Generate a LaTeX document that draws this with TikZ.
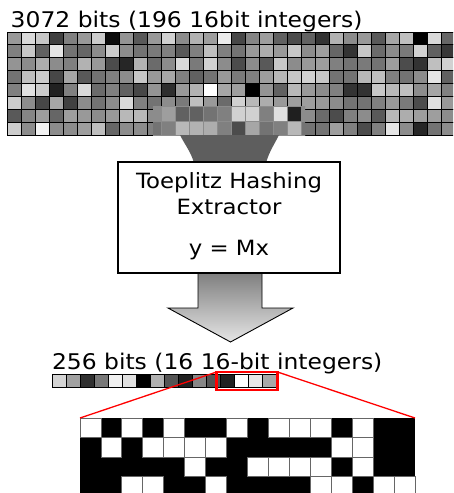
\documentclass[tikz,border=0pt]{standalone}
\usepackage{fontspec}
\setmainfont{DejaVu Sans}
\begin{document}
\begin{tikzpicture}[x=1pt,y=-1pt,
  lbl/.style={font=\fontsize{21.6}{26}\selectfont, inner sep=0pt, xscale=1.085},
  boxtxt/.style={font=\fontsize{21}{25}\selectfont, inner sep=0pt, xscale=1.085},
  gridcell/.style={draw=black, line width=0.9pt},
  patchcell/.style={draw=black!45, line width=0.4pt},
  bitcell/.style={fill=white, draw=black!60, line width=0.8pt},
  barcell/.style={draw=black, line width=0.8pt},
  redline/.style={draw=red, line width=1.3pt}]
\useasboundingbox (0,0) rectangle (453,493);
\begin{scope}
\clip (0,0) rectangle (453,493);
% ---------- top grid of 8 x 32 gray cells ----------
\def\rowA{60,85,78,25,50,60,80,5,58,35,60,82,55,70,62,92,28,52,62,38,30,38,20,70,55,60,35,65,75,0,85,40}
\def\rowB{50,78,38,90,45,40,55,80,55,45,48,50,35,50,75,50,45,60,68,60,78,55,62,40,20,78,42,55,48,82,38,22}
\def\rowC{58,55,68,55,50,70,60,30,15,70,42,55,85,48,82,55,30,55,35,78,55,60,62,50,45,48,45,62,30,20,75,82}
\def\rowD{45,75,80,28,65,35,45,50,55,78,60,65,50,38,45,60,48,50,62,72,78,82,78,45,45,72,75,50,45,55,90,38}
\def\rowE{50,88,80,13,50,85,42,50,38,28,58,18,60,70,100,65,62,0,58,38,72,60,55,50,20,20,78,72,75,55,65,50}
\def\rowF{80,55,28,65,25,55,45,55,85,50,45,55,48,75,60,42,82,72,68,60,62,62,60,55,45,45,50,60,48,30,88,60}
\def\rowG{35,52,62,40,62,60,55,60,72,72,55,50,60,60,50,55,80,80,50,85,15,55,42,30,50,55,35,72,68,62,62,55}
\def\rowH{80,55,95,55,55,62,75,40,55,55,50,50,72,70,68,50,30,65,45,50,72,45,45,62,50,30,50,90,55,15,45,55}
\foreach \vals [count=\r from 0] in {\rowA,\rowB,\rowC,\rowD,\rowE,\rowF,\rowG,\rowH}{
  \edef\celllist{\vals}
  \foreach \g [count=\c from 0] in \celllist{
    \path[gridcell, fill=white!\g!black] (7+14*\c, 32+12.875*\r) rectangle ++(14,12.875);
  }
}
% ---------- overlay patch at the funnel mouth ----------
\begin{scope}
\clip (153,106) rectangle (305,135.5);
\def\patchA{55,62,38,38,45,50,82,82,50,88,12,55}
\def\patchB{45,50,72,70,68,50,30,65,45,50,72,45}
\foreach \vals [count=\r from 0] in {\patchA,\patchB}{
  \edef\celllist{\vals}
  \foreach \g [count=\c from 10] in \celllist{
    \path[patchcell, fill=white!\g!black] (7+14*\c, 106+14.75*\r) rectangle ++(14,14.75);
  }
}
\end{scope}
% ---------- funnel ----------
\fill[white!37!black] (180,135) .. controls (185,145) and (191,152) .. (194,163)
  -- (266,163) .. controls (269,152) and (274,145) .. (279,135) -- cycle;
% ---------- down arrow ----------
\shade[top color=white!50!black, bottom color=white!90!black]
  (198,273) -- (198,308) -- (168,308) -- (230.5,342) -- (293,308) -- (262,308) -- (262,273) -- cycle;
\draw[line width=0.9pt, line join=miter]
  (198,273) -- (198,308) -- (168,308) -- (230.5,342) -- (293,308) -- (262,308) -- (262,273);
% ---------- extractor box ----------
\node[draw=black, fill=white, line width=1.8pt, minimum width=222pt, minimum height=111pt, inner sep=0pt] (box) at (229,217.5) {};
\node[boxtxt, anchor=base] (t1) at (229,188) {Toeplitz Hashing};
\node[boxtxt, anchor=base] (t2) at (229,214) {Extractor};
\node[boxtxt, anchor=base] (t3) at (229,255) {y = Mx};
% ---------- labels ----------
\node[lbl, anchor=base west] (toplabel) at (10.5,27) {3072 bits (196 16bit integers)};
\node[lbl, anchor=base west] (botlabel) at (51.8,369) {256 bits (16 16-bit integers)};
% ---------- 16-cell output bar ----------
\foreach \g [count=\c from 0] in {83,63,19,47,94,88,0,69,33,13,53,33,13,100,91,66}{
  \path[barcell, fill=white!\g!black] (52.3+14*\c, 374.3) rectangle ++(14,13.3);
}
% ---------- bit grid of the last four integers ----------
\node[fill=black, inner sep=0pt, outer sep=0pt, minimum width=335pt, minimum height=78pt, anchor=north west] (bits) at (80,418) {};
\def\bitA{1,0,1,0,1,0,0,1,0,1,1,1,0,1,0,0}
\def\bitB{0,1,0,1,1,1,1,0,0,0,0,0,1,1,0,0}
\def\bitC{0,0,0,0,0,1,0,0,1,1,1,1,0,1,0,0}
\def\bitD{0,0,1,1,0,0,1,0,0,0,0,1,1,0,1,1}
\foreach \vals [count=\r from 0] in {\bitA,\bitB,\bitC,\bitD}{
  \edef\celllist{\vals}
  \foreach \b [count=\c from 0] in \celllist{
    \ifnum\b=1
      \path[bitcell] (80+20.9375*\c, 418+19.5*\r) rectangle ++(20.9375,19.5);
    \fi
  }
}
% ---------- red zoom marker ----------
\node[draw=red, line width=2.2pt, outer sep=0pt, inner sep=0pt, minimum width=61pt, minimum height=18pt, anchor=north west] (redbox) at (216.5,372) {};
\draw[redline] (redbox.north west) -- (bits.north west);
\draw[redline] (redbox.north east) -- (bits.north east);
\end{scope}
\end{tikzpicture}
\end{document}
